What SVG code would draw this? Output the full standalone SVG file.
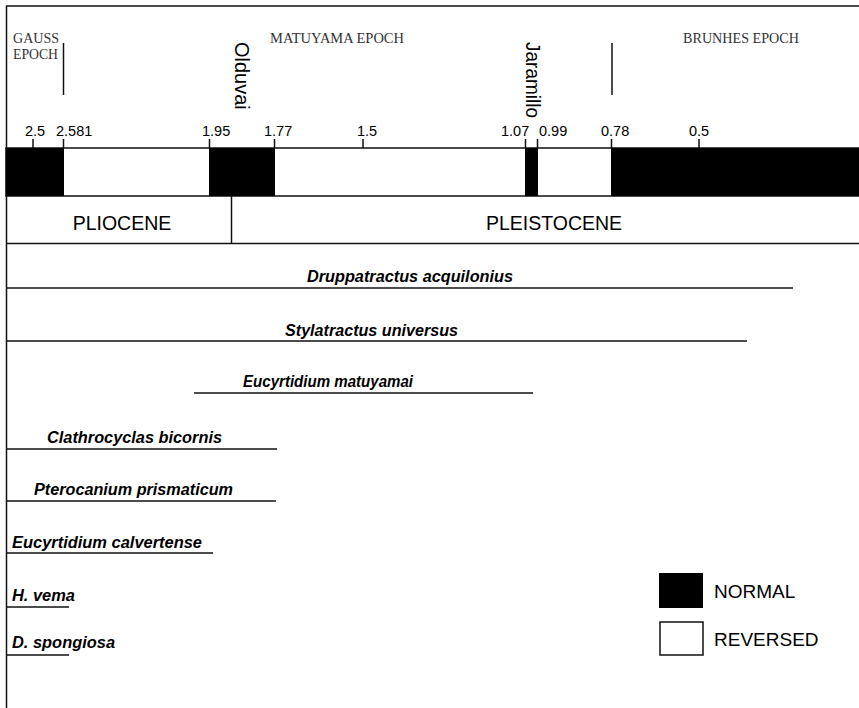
<svg xmlns="http://www.w3.org/2000/svg" width="859" height="708" viewBox="0 0 859 708">
<style>
.ln{stroke:#111;stroke-width:1.5;fill:none}
.blk{fill:#000}
.ep{font-family:"Liberation Serif",serif;font-size:15px;fill:#333}
.tk{font-family:"Liberation Sans",Arial,sans-serif;font-size:14.5px;fill:#000}
.rot{font-family:"Liberation Sans",Arial,sans-serif;font-size:20px;fill:#000}
.er{font-family:"Liberation Sans",Arial,sans-serif;font-size:19.5px;fill:#000}
.sp{font-family:"Liberation Sans",Arial,sans-serif;font-size:16px;font-weight:bold;font-style:italic;fill:#000}
.lg{font-family:"Liberation Sans",Arial,sans-serif;font-size:19px;fill:#000}
</style>
<rect width="859" height="708" fill="#fff"/>
<g id="frame">
<line class="ln" x1="6" y1="6" x2="859" y2="6"/>
<line class="ln" x1="6.5" y1="6" x2="6.5" y2="708"/>
</g>
<g id="epochs">
<text class="ep" x="13" y="43" textLength="46" lengthAdjust="spacingAndGlyphs">GAUSS</text>
<text class="ep" x="13" y="59" textLength="45" lengthAdjust="spacingAndGlyphs">EPOCH</text>
<text class="ep" x="270" y="43" textLength="134" lengthAdjust="spacingAndGlyphs">MATUYAMA EPOCH</text>
<text class="ep" x="683" y="43" textLength="116" lengthAdjust="spacingAndGlyphs">BRUNHES EPOCH</text>
<line class="ln" x1="63.5" y1="43" x2="63.5" y2="95"/>
<line class="ln" x1="612" y1="43" x2="612" y2="95"/>
<text class="rot" transform="translate(235,42) rotate(90)">Olduvai</text>
<text class="rot" transform="translate(526,42) rotate(90)" textLength="76" lengthAdjust="spacingAndGlyphs">Jaramillo</text>
</g>
<g id="polarity">
<rect x="6" y="148" width="853" height="48" fill="#fff" stroke="#111" stroke-width="1.5"/>
<rect class="blk" x="6" y="148" width="58" height="48"/>
<rect class="blk" x="209" y="148" width="66" height="48"/>
<rect class="blk" x="525" y="148" width="13" height="48"/>
<rect class="blk" x="611" y="148" width="248" height="48"/>
<line class="ln" x1="33" y1="139" x2="33" y2="148"/>
<line class="ln" x1="63.5" y1="139" x2="63.5" y2="148"/>
<line class="ln" x1="209.5" y1="139" x2="209.5" y2="148"/>
<line class="ln" x1="274.5" y1="139" x2="274.5" y2="148"/>
<line class="ln" x1="363" y1="139" x2="363" y2="148"/>
<line class="ln" x1="525.5" y1="139" x2="525.5" y2="148"/>
<line class="ln" x1="537.5" y1="139" x2="537.5" y2="148"/>
<line class="ln" x1="611.5" y1="139" x2="611.5" y2="148"/>
<line class="ln" x1="699" y1="139" x2="699" y2="148"/>
<text class="tk" x="25" y="136">2.5</text>
<text class="tk" x="56" y="136">2.581</text>
<text class="tk" x="202" y="136">1.95</text>
<text class="tk" x="264" y="136">1.77</text>
<text class="tk" x="357" y="136">1.5</text>
<text class="tk" x="501" y="136">1.07</text>
<text class="tk" x="539" y="136">0.99</text>
<text class="tk" x="601" y="136">0.78</text>
<text class="tk" x="689" y="136">0.5</text>
</g>
<g id="series">
<line class="ln" x1="6" y1="243.5" x2="859" y2="243.5"/>
<line class="ln" x1="231.5" y1="196" x2="231.5" y2="243"/>
<text class="er" x="122" y="230" text-anchor="middle">PLIOCENE</text>
<text class="er" x="554" y="230" text-anchor="middle">PLEISTOCENE</text>
</g>
<g id="species">
<g id="druppatractus"><text class="sp" x="307" y="282" textLength="206" lengthAdjust="spacingAndGlyphs">Druppatractus acquilonius</text><line class="ln" x1="6" y1="288" x2="793" y2="288"/></g>
<g id="stylatractus"><text class="sp" x="285" y="335.5" textLength="173" lengthAdjust="spacingAndGlyphs">Stylatractus universus</text><line class="ln" x1="6" y1="341" x2="747" y2="341"/></g>
<g id="matuyamai"><text class="sp" x="243" y="386.5" textLength="170" lengthAdjust="spacingAndGlyphs">Eucyrtidium matuyamai</text><line class="ln" x1="194" y1="393" x2="533" y2="393"/></g>
<g id="clathrocyclas"><text class="sp" x="47" y="443" textLength="175" lengthAdjust="spacingAndGlyphs">Clathrocyclas bicornis</text><line class="ln" x1="6" y1="449" x2="277" y2="449"/></g>
<g id="pterocanium"><text class="sp" x="34" y="495" textLength="199" lengthAdjust="spacingAndGlyphs">Pterocanium prismaticum</text><line class="ln" x1="6" y1="501" x2="276" y2="501"/></g>
<g id="calvertense"><text class="sp" x="12" y="548" textLength="190" lengthAdjust="spacingAndGlyphs">Eucyrtidium calvertense</text><line class="ln" x1="6" y1="553" x2="213" y2="553"/></g>
<g id="hvema"><text class="sp" x="12" y="601" textLength="63" lengthAdjust="spacingAndGlyphs">H. vema</text><line class="ln" x1="6" y1="607" x2="69" y2="607"/></g>
<g id="dspongiosa"><text class="sp" x="12" y="648" textLength="103" lengthAdjust="spacingAndGlyphs">D. spongiosa</text><line class="ln" x1="6" y1="655" x2="69" y2="655"/></g>
</g>
<g id="legend">
<rect class="blk" x="659" y="573" width="44" height="35"/>
<rect x="660" y="622" width="43" height="33" fill="#fff" stroke="#111" stroke-width="1.5"/>
<text class="lg" x="714" y="598">NORMAL</text>
<text class="lg" x="714" y="646">REVERSED</text>
</g>
</svg>
